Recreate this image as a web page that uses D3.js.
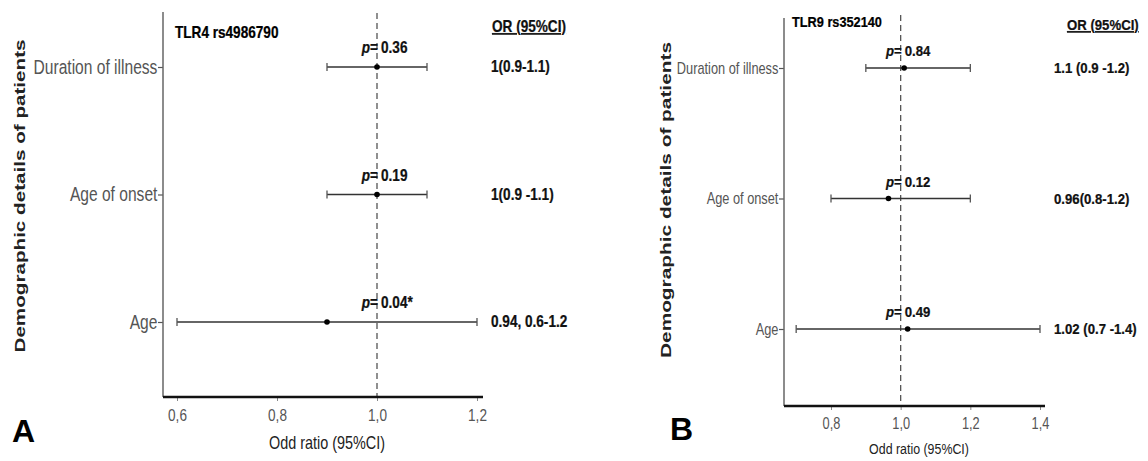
<!DOCTYPE html>
<html>
<head>
<meta charset="utf-8">
<script src="https://cdn.jsdelivr.net/npm/d3@7/dist/d3.min.js"></script>
<style>
  html, body { margin: 0; padding: 0; background: #fff; }
  svg { display: block; }
</style>
</head>
<body>
<svg id="chart" width="1148" height="461"></svg>
<script>
// ---------- DATA ----------
const categories = ["Duration of illness", "Age of onset", "Age"];

// Panel A: TLR4 rs4986790
const titleA = "TLR4 rs4986790";
const orA = [1.0, 1.0, 0.90];
const lowA = [0.9, 0.9, 0.6];
const highA = [1.1, 1.1, 1.2];
const pA = ["0.36", "0.19", "0.04*"];
const orTextA = ["1(0.9-1.1)", "1(0.9 -1.1)", "0.94, 0.6-1.2"];
const ticksA = [0.6, 0.8, 1.0, 1.2];
const tickLabelsA = ["0,6", "0,8", "1,0", "1,2"];

// Panel B: TLR9 rs352140
const titleB = "TLR9 rs352140";
const orB = [1.01, 0.965, 1.02];
const lowB = [0.9, 0.8, 0.7];
const highB = [1.2, 1.2, 1.4];
const pB = ["0.84", "0.12", "0.49"];
const orTextB = ["1.1 (0.9 -1.2)", "0.96(0.8-1.2)", "1.02 (0.7 -1.4)"];
const ticksB = [0.8, 1.0, 1.2, 1.4];
const tickLabelsB = ["0,8", "1,0", "1,2", "1,4"];

const yTitle = "Demographic details of patients";
const xTitle = "Odd ratio (95%CI)";
const orHeader = "OR (95%CI)";

// ---------- DRAW ----------
const svg = d3.select("#chart");
const SANS = "'Liberation Sans', Arial, sans-serif";
const SX = 0.8;   // horizontal condensation to mimic a narrow face

function label(g, x, y, txt, o) {
  o = o || {};
  const t = g.append("text")
    .attr("transform", `translate(${x},${y}) scale(${o.sx || SX},1)`)
    .attr("text-anchor", o.anchor || "start")
    .style("font-family", SANS)
    .style("font-weight", o.bold ? "bold" : "normal")
    .style("font-size", o.size + "px")
    .attr("fill", o.fill || "#111");
  if (o.bold) t.attr("stroke", o.fill || "#111").attr("stroke-width", 0.25);
  if (o.underline) t.style("text-decoration", "underline");
  if (o.html) t.html(txt); else t.text(txt);
  return t;
}

function panel(cfg) {
  const g = svg.append("g");
  const x = d3.scaleLinear().domain(cfg.xDomain).range(cfg.xRange);
  const y = d3.scalePoint().domain(categories).range(cfg.yRange);

  // dashed reference line at OR = 1
  g.append("line")
    .attr("x1", x(1)).attr("x2", x(1))
    .attr("y1", cfg.dashTop).attr("y2", cfg.axisY)
    .attr("stroke", "#555").attr("stroke-width", 1.3)
    .attr("stroke-dasharray", "6,4");

  // y axis
  const yAxis = g.append("g")
    .attr("transform", `translate(${cfg.axisX},0)`)
    .call(d3.axisLeft(y).tickSize(5).tickPadding(2));
  yAxis.select(".domain").remove();
  yAxis.selectAll(".tick line").attr("stroke", "#555").attr("stroke-width", 1.2);
  yAxis.selectAll(".tick text")
    .attr("fill", "#555")
    .attr("transform", `scale(${SX},1)`)
    .style("font-family", SANS)
    .style("font-size", cfg.catSize + "px");
  g.append("line")
    .attr("x1", cfg.axisX).attr("x2", cfg.axisX)
    .attr("y1", cfg.yTop).attr("y2", cfg.axisY)
    .attr("stroke", "#666").attr("stroke-width", 1.5);

  // x axis
  const xAxis = g.append("g")
    .attr("transform", `translate(0,${cfg.axisY})`)
    .call(d3.axisBottom(x).tickValues(cfg.ticks)
      .tickFormat((d, i) => cfg.tickLabels[i])
      .tickSize(4).tickSizeOuter(0).tickPadding(cfg.tickPad));
  xAxis.select(".domain").remove();
  xAxis.selectAll(".tick line").attr("stroke", "#888").attr("stroke-width", 1);
  xAxis.selectAll(".tick text")
    .attr("fill", "#555")
    .attr("transform", `scale(${SX},1)`)
    .style("font-family", SANS)
    .style("font-size", cfg.tickSize + "px");
  g.append("line")
    .attr("x1", cfg.axisX).attr("x2", cfg.xAxisEnd)
    .attr("y1", cfg.axisY).attr("y2", cfg.axisY)
    .attr("stroke", "#111").attr("stroke-width", 2.6);

  // error bars
  const rows = categories.map((c, i) => ({
    c, or: cfg.or[i], lo: cfg.low[i], hi: cfg.high[i], p: cfg.p[i], t: cfg.orText[i]
  }));
  const bars = g.selectAll(".bar").data(rows).enter().append("g");
  bars.append("line")
    .attr("x1", d => x(d.lo)).attr("x2", d => x(d.hi))
    .attr("y1", d => y(d.c)).attr("y2", d => y(d.c))
    .attr("stroke", "#333").attr("stroke-width", 1.5);
  bars.append("line")
    .attr("x1", d => x(d.lo)).attr("x2", d => x(d.lo))
    .attr("y1", d => y(d.c) - 4).attr("y2", d => y(d.c) + 4)
    .attr("stroke", "#555").attr("stroke-width", 1.3);
  bars.append("line")
    .attr("x1", d => x(d.hi)).attr("x2", d => x(d.hi))
    .attr("y1", d => y(d.c) - 4).attr("y2", d => y(d.c) + 4)
    .attr("stroke", "#555").attr("stroke-width", 1.3);
  bars.append("circle")
    .attr("cx", d => x(d.or)).attr("cy", d => y(d.c))
    .attr("r", 2.8).attr("fill", "#000");

  const LS = 0.85;
  rows.forEach(d => {
    const yy = y(d.c);
    label(g, x(1) + 1, yy + cfg.pOff, '<tspan font-style="italic">p</tspan>=',
      { html: true, anchor: "end", bold: true, size: cfg.labSize, sx: LS });
    label(g, x(1) + 4, yy + cfg.pOff, d.p, { bold: true, size: cfg.labSize, sx: LS });
    label(g, cfg.orX, yy + 5, d.t, { bold: true, size: cfg.labSize, sx: LS });
  });

  label(g, cfg.orX + cfg.headDx, cfg.headY, orHeader,
    { bold: true, size: cfg.labSize, underline: true, sx: LS });

  // title
  label(g, cfg.titleX, cfg.titleY, cfg.title,
    { bold: true, size: cfg.titleSize, fill: "#000", sx: 0.85 });

  // y axis title
  g.append("text")
    .attr("transform", `translate(${cfg.yTitleX},${cfg.yTitleY}) rotate(-90)`)
    .attr("text-anchor", "middle")
    .attr("textLength", cfg.yTitleLen).attr("lengthAdjust", "spacingAndGlyphs")
    .style("font-family", SANS).style("font-weight", "bold")
    .style("font-size", "14.5px").attr("fill", "#222")
    .text(yTitle);

  // x axis title
  label(g, cfg.xTitleX, cfg.xTitleY, xTitle,
    { anchor: "middle", size: cfg.xTitleSize, fill: "#222" });

  // panel letter
  g.append("text")
    .attr("x", cfg.letterX).attr("y", cfg.letterY)
    .style("font-family", SANS).style("font-weight", "bold")
    .style("font-size", "32px").attr("fill", "#000")
    .text(cfg.letter);
}

panel({
  title: titleA, or: orA, low: lowA, high: highA, p: pA, orText: orTextA,
  ticks: ticksA, tickLabels: tickLabelsA,
  xDomain: [0.6, 1.2], xRange: [177, 477], yRange: [67, 322],
  axisX: 163, axisY: 397, yTop: 12, dashTop: 13, xAxisEnd: 483,
  catSize: 19.5, tickSize: 17, tickPad: 8, labSize: 16, pOff: -14,
  orX: 491, headDx: 1, headY: 32,
  titleX: 175, titleY: 38, titleSize: 16,
  yTitleX: 25, yTitleY: 196, yTitleLen: 313,
  xTitleX: 327, xTitleY: 449, xTitleSize: 18,
  letter: "A", letterX: 12, letterY: 442
});

panel({
  title: titleB, or: orB, low: lowB, high: highB, p: pB, orText: orTextB,
  ticks: ticksB, tickLabels: tickLabelsB,
  xDomain: [0.8, 1.4], xRange: [831, 1040], yRange: [68, 329],
  axisX: 784, axisY: 406, yTop: 18, dashTop: 15, xAxisEnd: 1045,
  catSize: 16, tickSize: 16, tickPad: 8, labSize: 15.5, pOff: -12,
  orX: 1054, headDx: 13, headY: 30,
  titleX: 792, titleY: 27, titleSize: 15,
  yTitleX: 671, yTitleY: 200, yTitleLen: 316,
  xTitleX: 919, xTitleY: 454, xTitleSize: 15.5,
  letter: "B", letterX: 670, letterY: 440
});
</script>
</body>
</html>
